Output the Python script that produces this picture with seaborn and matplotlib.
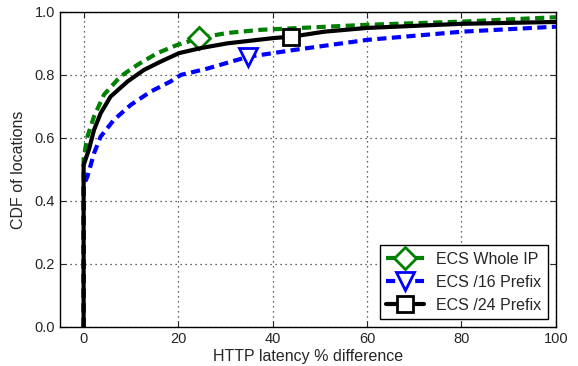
import numpy as np
import matplotlib
matplotlib.use("Agg")
import matplotlib.pyplot as plt
import seaborn as sns

# =========================
# Data
# =========================

whole_x = [0, 0, 0.8, 2.2, 4.3, 7.8, 11.4, 15.6, 19.8, 22, 24.4, 30.4, 37.5, 46, 60, 80, 100]
whole_y = [0, 0.535, 0.604, 0.668, 0.737, 0.795, 0.832, 0.869, 0.895, 0.905, 0.917,
           0.933, 0.943, 0.949, 0.959, 0.969, 0.983]
whole_mark = 10

p16_x = [0, 0, 0.8, 2.2, 3.6, 6.4, 10, 14.2, 18.4, 20.6, 26.2, 34.7, 44.5, 60, 80, 100]
p16_y = [0, 0.45, 0.477, 0.551, 0.604, 0.657, 0.705, 0.747, 0.779, 0.80, 0.82, 0.857,
         0.879, 0.911, 0.937, 0.953]
p16_mark = 11

p24_x = [0, 0, 1.1, 2.2, 3.6, 5.7, 9.3, 12.8, 16.3, 20.2, 24.8, 30.4, 40.3, 44, 50.9, 60, 80, 100]
p24_y = [0, 0.514, 0.562, 0.625, 0.678, 0.731, 0.779, 0.816, 0.842, 0.869, 0.885, 0.90,
         0.917, 0.921, 0.937, 0.949, 0.962, 0.968]
p24_mark = 13

labels = ["ECS Whole IP", "ECS /16 Prefix", "ECS /24 Prefix"]

# =========================
# Style
# =========================

sns.set_style("ticks")
plt.rcParams["font.family"] = ["Liberation Sans", "DejaVu Sans"]
plt.rcParams["font.size"] = 10.5

fig = plt.figure(figsize=(5.78, 3.66), dpi=100)
ax = fig.add_axes([0.1038, 0.1066, 0.858, 0.861])

dash = (2.2, 1.3)
sns.lineplot(x=whole_x, y=whole_y, sort=False, estimator=None, ax=ax, color="#008000", lw=3,
             linestyle=(0, dash), marker="D", markevery=[whole_mark],
             ms=11, mfc="white", mec="#008000", mew=2, label=labels[0])
sns.lineplot(x=p16_x, y=p16_y, sort=False, estimator=None, ax=ax, color="#0000ff", lw=3,
             linestyle=(0, dash), marker="v", markevery=[p16_mark],
             ms=13, mfc="white", mec="#0000ff", mew=2, label=labels[1])
sns.lineplot(x=p24_x, y=p24_y, sort=False, estimator=None, ax=ax, color="black", lw=3,
             marker="s", markevery=[p24_mark],
             ms=12, mfc="white", mec="black", mew=2, label=labels[2])

ax.set_xlim(-5, 100)
ax.set_ylim(0, 1.0)
ax.set_xticks([0, 20, 40, 60, 80, 100])
ax.set_yticks([0.0, 0.2, 0.4, 0.6, 0.8, 1.0])
ax.set_yticklabels(["0.0", "0.2", "0.4", "0.6", "0.8", "1.0"])
ax.grid(True, linestyle=(0, (1, 3)), color="#333333", linewidth=0.9)
ax.tick_params(direction="in", top=True, right=True, length=4, labelsize=10.5)
for s in ax.spines.values():
    s.set_linewidth(1.0)
    s.set_color("black")

ax.set_xlabel("HTTP latency % difference", fontsize=11.5, labelpad=2)
ax.set_ylabel("CDF of locations", fontsize=11.5, labelpad=6)

leg = ax.legend(loc="lower right", fancybox=False, framealpha=1, edgecolor="black",
                fontsize=11.5, handlelength=2.4, handletextpad=0.75, borderpad=0.4,
                labelspacing=0.5, borderaxespad=0.5)
leg.get_frame().set_linewidth(1.0)

fig.savefig("out.png", dpi=100)
